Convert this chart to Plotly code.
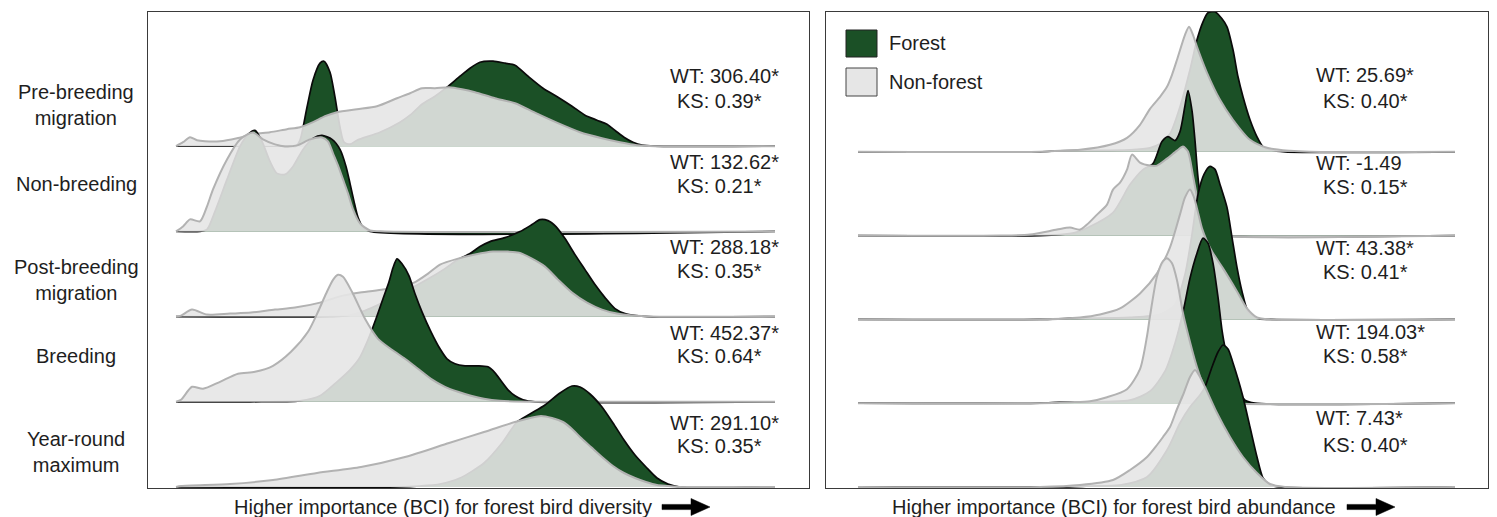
import plotly.graph_objects as go

W, H = 1497, 517

# ---------------- data (x in BCI rank units, y = scaled density) ----------------
rows = ["Pre-breeding<br>migration", "Non-breeding", "Post-breeding<br>migration", "Breeding", "Year-round<br>maximum"]

# Left panel: importance for forest bird diversity
div_forest_x = [
    [0,114,120,124,131,137,144,148,154,159,164,168,174,181,204,224,234,246,259,271,284,294,304,317,329,339,352,367,382,396,409,421,431,440,448,457,466,479,599],
    [0,24,31,39,51,64,72,79,86,94,101,109,117,127,137,146,156,164,170,174,178,182,187,194,599],
    [0,154,172,189,207,229,251,269,282,294,304,314,329,344,356,364,372,380,389,399,409,419,429,439,449,460,472,599],
    [0,74,124,144,161,174,183,192,200,207,213,217,221,226,233,239,246,255,264,271,279,289,301,312,319,325,332,339,347,359,599],
    [0,224,244,264,284,308,326,341,354,369,384,396,404,414,426,437,448,459,470,481,492,504,599],
]
div_forest_y = [
    [0,0,0,6,39,66,83,85,74,49,19,4,2,6,14,24,31,42,50,59,70,78,84,85,83,81,70,58,49,40,31,26,22,15,9,4,1,0,0],
    [0,0,2,20,52,85,97,101,90,70,58,57,65,82,93,96,92,82,65,48,30,14,4,0,0],
    [0,0,1,6,14,25,37,48,57,63,70,75,79,85,92,97,96,90,78,62,47,32,19,8,3,1,0,0],
    [0,0,1,6,20,32,43,62,83,103,120,134,143,138,126,108,90,70,53,43,38,36,36,35,29,21,12,6,2,0,0],
    [0,0,1,3,9,24,44,65,73,82,94,101,100,93,80,64,47,32,20,9,3,0,0],
]
div_nonforest_x = [
    [0,7,14,21,29,44,61,77,94,111,124,137,149,161,181,201,221,234,246,259,273,286,299,319,339,360,382,404,426,444,461,479,599],
    [0,7,14,24,31,37,51,64,77,87,99,109,121,134,146,152,157,162,167,172,177,184,194,209,599],
    [0,5,16,31,54,75,99,119,144,163,184,207,224,238,252,264,282,299,317,332,343,356,369,382,396,411,426,441,457,474,599],
    [0,5,16,27,44,62,79,97,115,132,142,150,157,162,167,176,189,202,216,229,242,255,269,282,295,308,324,361,599],
    [0,5,54,97,141,185,229,273,308,339,354,365,376,387,396,404,415,426,437,448,459,470,481,492,504,599],
]
div_nonforest_y = [
    [0,4,9,6,5,5,8,12,14,17,19,24,30,34,37,40,48,53,58,58,59,57,54,48,43,33,23,14,8,4,1,0,0],
    [0,5,12,10,25,42,72,92,99,92,87,85,86,92,94,90,78,66,52,38,22,8,1,0,0],
    [0,1,7,2,3,4,7,9,14,20,24,27,30,34,43,52,58,62,65,65,64,58,50,37,24,14,7,3,1,0,0],
    [0,2,15,13,20,28,30,36,50,70,90,108,122,127,125,110,83,63,52,43,33,23,15,10,6,3,1,0,0],
    [0,1,3,7,14,20,30,44,55,65,69,71,69,65,58,50,40,30,21,14,9,5,2,1,0,0],
]

# Right panel: importance for forest bird abundance
abu_forest_x = [
    [0,182,202,272,292,302,312,322,332,339,345,350,357,364,369,375,380,385,392,399,405,412,427,597],
    [0,182,202,217,232,255,272,285,295,304,310,317,322,327,330,334,337,340,344,348,354,362,597],
    [0,182,212,272,302,317,327,334,340,346,352,357,362,369,374,379,384,390,399,412,597],
    [0,182,202,272,292,307,317,325,332,339,345,350,355,360,364,367,372,377,382,387,397,597],
    [0,202,232,262,289,309,322,332,342,347,354,360,365,370,375,380,385,392,399,405,412,422,597],
]
abu_forest_y = [
    [0,0,1,2,4,8,18,45,82,112,130,139,140,133,125,102,75,55,32,15,5,2,0,0],
    [0,0,1,3,9,23,51,66,72,94,99,95,104,130,145,125,95,58,27,10,2,0,0],
    [0,0,1,2,5,15,45,85,125,145,153,150,135,112,82,52,28,8,1,0,0],
    [0,0,1,3,12,32,60,91,125,150,165,160,140,106,73,56,38,22,10,3,0,0],
    [0,0,1,2,10,37,64,80,92,100,120,135,142,138,124,108,90,60,30,9,2,0,0],
]
abu_nonforest_x = [
    [0,182,202,222,252,269,282,292,302,309,314,319,327,331,335,339,349,362,375,392,409,432,452,597],
    [0,142,172,199,212,222,229,239,249,255,262,269,274,282,292,299,309,319,325,330,335,340,345,352,362,597],
    [0,182,222,242,262,282,299,312,322,327,332,336,339,344,349,354,365,379,389,399,412,597],
    [0,182,212,232,249,269,282,289,292,299,305,309,314,319,325,329,339,349,357,372,597],
    [0,182,222,255,272,289,299,305,312,319,325,332,337,342,347,359,372,385,399,412,427,597],
]
abu_nonforest_y = [
    [0,0,1,2,7,14,27,43,55,65,77,92,117,125,117,105,79,52,32,12,4,1,0,0],
    [0,0,1,6,8,6,11,21,31,46,53,66,81,73,70,70,77,85,89,84,60,34,14,4,0,0],
    [0,0,2,5,11,26,46,72,105,122,130,122,111,91,78,68,51,28,11,2,0,0],
    [0,0,1,2,6,14,34,67,87,127,142,145,140,123,90,73,36,10,3,0,0],
    [0,0,2,7,17,30,42,50,60,78,92,110,117,110,100,74,50,30,14,3,0,0],
]

div_stats = [("WT: 306.40*", "KS: 0.39*"), ("WT: 132.62*", "KS: 0.21*"), ("WT: 288.18*", "KS: 0.35*"),
             ("WT: 452.37*", "KS: 0.64*"), ("WT: 291.10*", "KS: 0.35*")]
abu_stats = [("WT: 25.69*", "KS: 0.40*"), ("WT: -1.49", "KS: 0.15*"), ("WT: 43.38*", "KS: 0.41*"),
             ("WT: 194.03*", "KS: 0.58*"), ("WT: 7.43*", "KS: 0.40*")]

legend_labels = ["Forest", "Non-forest"]
xtitles = ["Higher importance (BCI) for forest bird diversity", "Higher importance (BCI) for forest bird abundance"]

# ---------------- style ----------------
FONT = "Liberation Sans, Arial, sans-serif"
TXT = "#1e1e1e"
GREEN = "rgb(27,80,38)"
GREY_FILL = "rgba(229,229,229,0.9)"
GREY_LINE = "rgb(178,178,178)"

fig = go.Figure()

panels = [
    dict(fx=div_forest_x, fy=div_forest_y, nx=div_nonforest_x, ny=div_nonforest_y, xa="x", ya="y", step=85.2),
    dict(fx=abu_forest_x, fy=abu_forest_y, nx=abu_nonforest_x, ny=abu_nonforest_y, xa="x2", ya="y2", step=83.8),
]
for p in panels:
    n = len(rows)
    for i in range(n):
        off = (n - 1 - i) * p["step"]
        fig.add_trace(go.Scatter(
            x=p["fx"][i], y=[off + v for v in p["fy"][i]], xaxis=p["xa"], yaxis=p["ya"],
            mode="lines", fill="toself", fillcolor=GREEN,
            line=dict(color="#0a0a0a", width=1.7, shape="spline", smoothing=0.7),
            showlegend=False, hoverinfo="skip"))
        fig.add_trace(go.Scatter(
            x=p["nx"][i], y=[off + v for v in p["ny"][i]], xaxis=p["xa"], yaxis=p["ya"],
            mode="lines", fill="toself", fillcolor=GREY_FILL,
            line=dict(color=GREY_LINE, width=2, shape="spline", smoothing=0.7),
            showlegend=False, hoverinfo="skip"))

def px(x):
    return x / W

def py(y):
    return 1 - y / H

ax_common = dict(showgrid=False, zeroline=False, showticklabels=False, ticks="",
                 showline=True, mirror=True, linecolor="#3a3a3a", linewidth=1.3)
fig.update_layout(
    width=W, height=H, margin=dict(l=0, r=0, t=0, b=0),
    paper_bgcolor="white", plot_bgcolor="white",
    xaxis=dict(domain=[px(148), px(809)], range=[-28, 633], **ax_common),
    yaxis=dict(domain=[py(488), py(12)], range=[-1, 475], **ax_common),
    xaxis2=dict(domain=[px(826), px(1488)], range=[-32, 630], **ax_common),
    yaxis2=dict(domain=[py(488), py(12)], range=[-1, 475], anchor="x2", **ax_common),
    font=dict(family=FONT, size=20, color=TXT),
)

ann = []
label_y = [105.5, 184, 280, 356, 451.5]
for lab, yy in zip(rows, label_y):
    ann.append(dict(text=lab, x=px(76), y=py(yy), xref="paper", yref="paper",
                    xanchor="center", yanchor="middle", align="center", showarrow=False))

div_wt_y = [(76, 101), (162, 186), (247, 271), (333, 356), (423, 446)]
abu_wt_y = [(75, 101), (163, 187), (248, 272), (332, 356), (418, 445)]
for stats, ys, x0 in [(div_stats, div_wt_y, 668), (abu_stats, abu_wt_y, 1314)]:
    for (wt, ks), (y1, y2) in zip(stats, ys):
        ann.append(dict(text=wt, x=px(x0), y=py(y1), xref="paper", yref="paper",
                        xanchor="left", yanchor="middle", showarrow=False))
        ann.append(dict(text=ks, x=px(x0 + 7), y=py(y2), xref="paper", yref="paper",
                        xanchor="left", yanchor="middle", showarrow=False))

ann.append(dict(text=legend_labels[0], x=px(887), y=py(43), xref="paper", yref="paper",
                xanchor="left", yanchor="middle", showarrow=False))
ann.append(dict(text=legend_labels[1], x=px(887), y=py(82), xref="paper", yref="paper",
                xanchor="left", yanchor="middle", showarrow=False))

ann.append(dict(text=xtitles[0], x=px(443), y=py(507), xref="paper", yref="paper",
                xanchor="center", yanchor="middle", showarrow=False))
ann.append(dict(text=xtitles[1], x=px(1114), y=py(507), xref="paper", yref="paper",
                xanchor="center", yanchor="middle", showarrow=False))
fig.update_layout(annotations=ann)

shapes = [
    dict(type="rect", xref="paper", yref="paper", x0=px(846), x1=px(877), y0=py(57), y1=py(30),
         fillcolor=GREEN, line=dict(color="#222", width=1)),
    dict(type="rect", xref="paper", yref="paper", x0=px(846), x1=px(877), y0=py(96), y1=py(68),
         fillcolor="#e6e6e6", line=dict(color="#444", width=1)),
]

def arrow(x0, yc):
    pts = [(x0, yc - 2.6), (x0 + 29, yc - 2.6), (x0 + 29, yc - 8.5), (x0 + 48, yc),
           (x0 + 29, yc + 8.5), (x0 + 29, yc + 2.6), (x0, yc + 2.6)]
    d = "M " + " L ".join(f"{px(a):.6f},{py(b):.6f}" for a, b in pts) + " Z"
    return dict(type="path", xref="paper", yref="paper", path=d, fillcolor="black",
                line=dict(color="black", width=0.5))

shapes += [arrow(662, 507), arrow(1347, 507)]
fig.update_layout(shapes=shapes)

fig.write_html("out.html")
